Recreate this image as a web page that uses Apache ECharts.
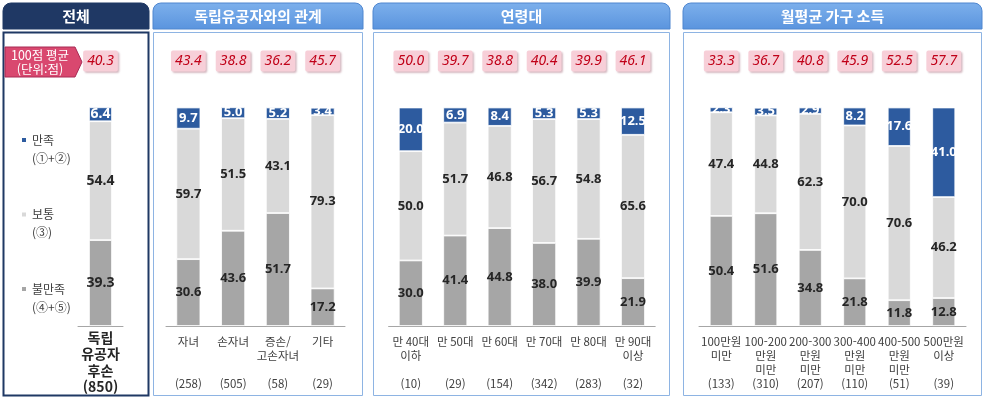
<!DOCTYPE html>
<html lang="ko">
<head>
    <meta charset="UTF-8">
    <script src="https://cdn.jsdelivr.net/npm/echarts@6/dist/echarts.min.js"></script>
    <title>만족도</title>
    <style>
        body { margin: 0; background: #fff; }
    </style>
</head>
<body>
    <div id="main" style="width: 985px; height: 398px;"></div>
    <script>
        // 데이터 ------------------------
        var seriesNames = ['만족', '보통', '불만족'];
        var seriesSubs = ['(①+②)', '(③)', '(④+⑤)'];

        // 전체
        var catTotal = ['독립\n유공자\n후손'];
        var nTotal = [850];
        var avgTotal = [40.3];
        var satTotal = [6.4];
        var midTotal = [54.4];
        var disTotal = [39.3];

        // 독립유공자와의 관계
        var catRel = ['자녀', '손자녀', '증손/\n고손자녀', '기타'];
        var nRel = [258, 505, 58, 29];
        var avgRel = [43.4, 38.8, 36.2, 45.7];
        var satRel = [9.7, 5.0, 5.2, 3.4];
        var midRel = [59.7, 51.5, 43.1, 79.3];
        var disRel = [30.6, 43.6, 51.7, 17.2];

        // 연령대
        var catAge = ['만 40대\n이하', '만 50대', '만 60대', '만 70대', '만 80대', '만 90대\n이상'];
        var nAge = [10, 29, 154, 342, 283, 32];
        var avgAge = [50.0, 39.7, 38.8, 40.4, 39.9, 46.1];
        var satAge = [20.0, 6.9, 8.4, 5.3, 5.3, 12.5];
        var midAge = [50.0, 51.7, 46.8, 56.7, 54.8, 65.6];
        var disAge = [30.0, 41.4, 44.8, 38.0, 39.9, 21.9];

        // 월평균 가구 소득
        var catInc = ['100만원\n미만', '100-200\n만원\n미만', '200-300\n만원\n미만', '300-400\n만원\n미만', '400-500\n만원\n미만', '500만원\n이상'];
        var nInc = [133, 310, 207, 110, 51, 39];
        var avgInc = [33.3, 36.7, 40.8, 45.9, 52.5, 57.7];
        var satInc = [2.3, 3.5, 2.9, 8.2, 17.6, 41.0];
        var midInc = [47.4, 44.8, 62.3, 70.0, 70.6, 46.2];
        var disInc = [50.4, 51.6, 34.8, 21.8, 11.8, 12.8];

        // 색상
        var cBlue = '#2D5B9F', cLight = '#D9D9D9', cDark = '#A6A6A6';
        var fontKr = "'Noto Sans CJK KR', 'Noto Sans', sans-serif";

        // 패널 배치
        var panels = [
            { title: '전체', cats: catTotal, n: nTotal, avg: avgTotal, sat: satTotal, mid: midTotal, dis: disTotal,
              gl: 78, gw: 45, bw: 23, box: [3, 149], dark: true },
            { title: '독립유공자와의 관계', cats: catRel, n: nRel, avg: avgRel, sat: satRel, mid: midRel, dis: disRel,
              gl: 166, gw: 179, bw: 24, box: [153, 363] },
            { title: '연령대', cats: catAge, n: nAge, avg: avgAge, sat: satAge, mid: midAge, dis: disAge,
              gl: 388.6, gw: 266.6, bw: 24, box: [373, 670] },
            { title: '월평균 가구 소득', cats: catInc, n: nInc, avg: avgInc, sat: satInc, mid: midInc, dis: disInc,
              gl: 699, gw: 267, bw: 23, box: [683, 982] }
        ];

        function catLabel(c, n) {
            var lines = c.split('\n');
            while (lines.length < 3) lines.push('');
            lines.push('(' + n + ')');
            return lines.join('\n');
        }

        var grids = [], xAxes = [], yAxes = [], series = [], graphics = [];

        panels.forEach(function (p, i) {
            grids.push({ left: p.gl, width: p.gw, top: 107.5, bottom: 72 });

            // 하단 범주축
            xAxes.push({
                type: 'category', gridIndex: i, position: 'bottom',
                data: p.cats.map(function (c, k) { return catLabel(c, p.n[k]); }),
                axisTick: { show: false },
                axisLine: { lineStyle: { color: '#A6A6A6', width: 1 } },
                axisLabel: p.dark ? {
                    interval: 0, margin: 3, fontSize: 14, fontWeight: 'bold', lineHeight: 16.5,
                    color: '#262626', fontFamily: fontKr
                } : {
                    interval: 0, margin: 9, fontSize: 11.5, lineHeight: 14,
                    color: '#404040', fontFamily: fontKr
                }
            });
            // 상단 100점 평균
            xAxes.push({
                type: 'category', gridIndex: i, position: 'top',
                data: p.avg.map(function (v) { return v.toFixed(1); }),
                axisTick: { show: false },
                axisLine: { show: false },
                axisLabel: {
                    interval: 0, margin: 36,
                    fontSize: 14, fontStyle: 'italic', lineHeight: 15,
                    color: '#C00018', fontFamily: "'Noto Sans', sans-serif",
                    backgroundColor: '#F7CFD8', padding: [3, 4],
                    borderRadius: 2,
                    shadowColor: 'rgba(150, 80, 100, 0.4)', shadowBlur: 2,
                    shadowOffsetX: 1.5, shadowOffsetY: 1.5
                }
            });
            yAxes.push({ type: 'value', gridIndex: i, min: 0, max: 100, show: false });

            var parts = [
                { name: '불만족', data: p.dis, color: cDark, text: '#262626' },
                { name: '보통', data: p.mid, color: cLight, text: '#262626' },
                { name: '만족', data: p.sat, color: cBlue, text: '#ffffff' }
            ];
            parts.forEach(function (s) {
                series.push({
                    name: s.name, type: 'bar', stack: 'p' + i,
                    xAxisIndex: i * 2, yAxisIndex: i,
                    barWidth: p.bw,
                    data: s.data,
                    itemStyle: { color: s.color, borderColor: '#fff', borderWidth: 0.8 },
                    label: {
                        show: true, position: 'inside',
                        color: s.text, fontWeight: 'bold',
                        fontSize: p.dark ? 14 : 13,
                        fontFamily: "'Noto Sans', sans-serif",
                        formatter: function (o) { return o.value.toFixed(1); }
                    }
                });
            });

            // 패널 테두리 + 머리글
            var bx = p.box[0], bw = p.box[1] - p.box[0];
            graphics.push({
                type: 'rect', z: -1,
                shape: { x: bx + 0.5, y: 32.5, width: bw - 1, height: 363 },
                style: p.dark ? { fill: '#fff', stroke: '#1F3864', lineWidth: 2 }
                              : { fill: '#fff', stroke: '#8EB4E3', lineWidth: 1 }
            });
            graphics.push({
                type: 'rect', z: -1,
                shape: { x: bx, y: 3, width: bw, height: 26, r: [8, 8, 0, 0] },
                style: {
                    fill: p.dark ? '#1F3864' : new echarts.graphic.LinearGradient(0, 0, 0, 1, [
                        { offset: 0, color: '#7DB0EC' }, { offset: 1, color: '#5A94DE' }
                    ]),
                    stroke: p.dark ? '#1F3864' : '#4F86CF', lineWidth: 1
                }
            });
            graphics.push({
                type: 'text', z: 1,
                x: bx + bw / 2, y: 16,
                style: {
                    text: p.title, fill: '#fff', fontSize: 15, fontWeight: 'bold',
                    fontFamily: fontKr, align: 'center', verticalAlign: 'middle'
                }
            });
        });

        // 100점 평균 화살표
        graphics.push({
            type: 'polygon', z: 1,
            shape: { points: [[5, 47], [75, 47], [82, 62], [75, 77], [5, 77]] },
            style: { fill: '#D9486F', stroke: '#A82A55', lineWidth: 1 }
        });
        graphics.push({
            type: 'text', z: 2, x: 40, y: 62,
            style: {
                text: '100점 평균\n(단위:점)', fill: '#fff', fontSize: 12.5,
                lineHeight: 14, fontFamily: fontKr, align: 'center', verticalAlign: 'middle'
            }
        });

        var myChart = echarts.init(document.getElementById('main'));
        var option = {
            animation: false,
            textStyle: { fontFamily: fontKr },
            legend: {
                orient: 'vertical', left: 15, top: 125,
                data: seriesNames, selectedMode: false,
                itemWidth: 6, itemHeight: 36, itemGap: 36.5,
                icon: 'path://M0,0h0.01v0.01h-0.01z M0,6h6v6h-6z M0,35.99h0.01v0.01h-0.01z',
                formatter: function (name) {
                    return name + '\n' + seriesSubs[seriesNames.indexOf(name)];
                },
                textStyle: { fontSize: 12, lineHeight: 18, color: '#404040', fontFamily: fontKr }
            },
            grid: grids,
            xAxis: xAxes,
            yAxis: yAxes,
            series: series,
            graphic: graphics
        };
        myChart.setOption(option);
    </script>
</body>
</html>
